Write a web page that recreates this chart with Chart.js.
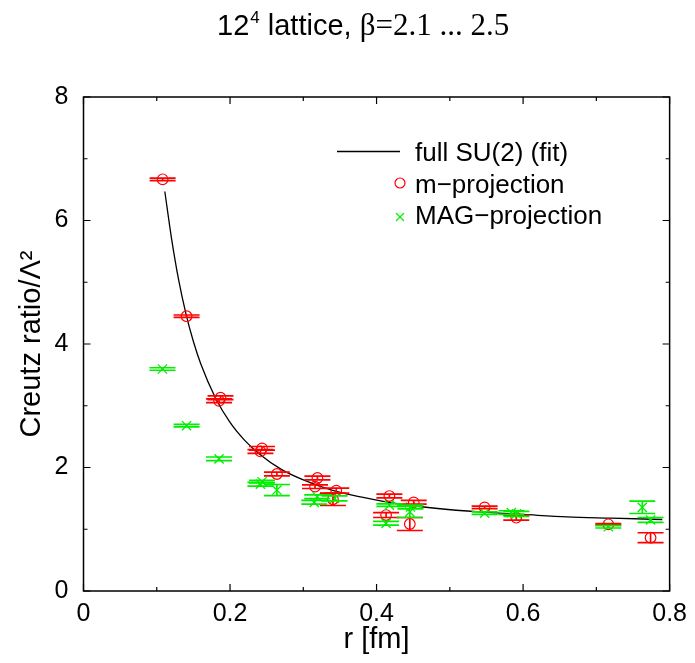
<!DOCTYPE html>
<html>
<head>
<meta charset="utf-8">
<script src="https://cdn.jsdelivr.net/npm/chart.js@4.4.1/dist/chart.umd.min.js"></script>
<style>
  html, body { margin: 0; padding: 0; background: #fff; }
  #c { display: block; }
</style>
</head>
<body>
<canvas id="c" width="695" height="663"></canvas>
<script>
// ---- data ----
// m-projection (red circles): r [fm], Creutz ratio / Lambda^2, error
const rM   = [0.108, 0.1407, 0.187, 0.185, 0.2437, 0.2415, 0.264, 0.3193, 0.316, 0.345, 0.3405, 0.4175, 0.413, 0.4507, 0.4454, 0.5475, 0.5907, 0.7163, 0.774];
const cM   = [6.667, 4.45,   3.13,  3.08,  2.31,   2.26,   1.895, 1.83,   1.69,  1.625, 1.485,  1.538,  1.23,  1.436,  1.085,  1.355,  1.187,  1.08,   0.863];
const eM   = [0.02,  0.02,   0.03,  0.03,  0.03,   0.03,   0.03,  0.03,   0.03,  0.04,  0.10,   0.03,   0.04,  0.03,   0.105,  0.02,   0.04,   0.01,   0.08];

// MAG-projection (green crosses)
const rG   = [0.1078, 0.1407, 0.185, 0.2437, 0.2415, 0.264, 0.319, 0.315, 0.3427, 0.4175, 0.413, 0.4463, 0.4454, 0.5475, 0.584, 0.591, 0.7163, 0.7627, 0.774];
const cG   = [3.595,  2.677,  2.14,  1.77,   1.73,   1.635, 1.527, 1.436, 1.50,   1.39,   1.096, 1.36,   1.28,   1.26,   1.27,  1.25,  1.04,   1.355,  1.15];
const eG   = [0.02,   0.02,   0.03,  0.02,   0.03,   0.09,  0.03,  0.03,  0.04,   0.02,   0.03,  0.03,   0.09,   0.02,   0.03,  0.04,  0.02,   0.10,   0.04];

// full SU(2) fit curve
const rFit = [0.111, 0.12, 0.13, 0.14, 0.15, 0.16, 0.18, 0.20, 0.22, 0.24, 0.27, 0.30, 0.34, 0.38, 0.43, 0.48, 0.54, 0.60, 0.66, 0.72, 0.79];
const cFit = [6.47,  5.72, 5.03, 4.48, 4.04, 3.68, 3.13, 2.73, 2.44, 2.22, 1.97, 1.80, 1.63, 1.52, 1.41, 1.34, 1.28, 1.24, 1.20, 1.18, 1.158];

// axis ticks
const xTicks = [0, 0.2, 0.4, 0.6, 0.8];
const yTicks = [0, 2, 4, 6, 8];
const xMinor = [0.1, 0.3, 0.5, 0.7];
const yMinor = [1, 3, 5, 7];

const titleParts = { base: '12', sup: '4', mid: ' lattice, ', greek: 'β=2.1 ... 2.5' };
const legendLabels = ['full SU(2) (fit)', 'm\u2212projection', 'MAG\u2212projection'];

const RED = '#ff0000', GREEN = '#00ee00';
const SANS = '"Liberation Sans", Arial, Helvetica, sans-serif';
const SERIF = '"Liberation Serif", "Times New Roman", serif';

const pts = (xs, ys) => xs.map((x, i) => ({ x: x, y: ys[i] }));

const errorBars = {
  id: 'errorBars',
  afterDatasetsDraw(chart) {
    const ctx = chart.ctx, ys = chart.scales.y, a = chart.chartArea;
    ctx.save();
    ctx.beginPath();
    ctx.rect(a.left, a.top, a.right - a.left, a.bottom - a.top);
    ctx.clip();
    chart.data.datasets.forEach((ds, di) => {
      if (!ds.yerr) return;
      const meta = chart.getDatasetMeta(di);
      ctx.strokeStyle = ds.borderColor;
      ctx.lineWidth = 1.7;
      meta.data.forEach((el, i) => {
        const v = ds.data[i].y, e = ds.yerr[i];
        const y1 = ys.getPixelForValue(v + e), y2 = ys.getPixelForValue(v - e);
        const x = el.x, hw = 13;
        ctx.beginPath();
        ctx.moveTo(x, y1); ctx.lineTo(x, y2);
        ctx.moveTo(x - hw, y1); ctx.lineTo(x + hw, y1);
        ctx.moveTo(x - hw, y2); ctx.lineTo(x + hw, y2);
        ctx.stroke();
      });
    });
    ctx.restore();
  }
};

const frameAndText = {
  id: 'frameAndText',
  afterDraw(chart) {
    const ctx = chart.ctx, a = chart.chartArea, xs = chart.scales.x, ys = chart.scales.y;
    ctx.save();
    // frame
    ctx.strokeStyle = '#000';
    ctx.lineWidth = 1.5;
    ctx.strokeRect(a.left, a.top, a.right - a.left, a.bottom - a.top);
    // inward ticks
    ctx.lineWidth = 1.2;
    ctx.beginPath();
    const tx = (vals, len) => vals.forEach(v => {
      const p = xs.getPixelForValue(v);
      ctx.moveTo(p, a.bottom); ctx.lineTo(p, a.bottom - len);
      ctx.moveTo(p, a.top); ctx.lineTo(p, a.top + len);
    });
    const ty = (vals, len) => vals.forEach(v => {
      const p = ys.getPixelForValue(v);
      ctx.moveTo(a.left, p); ctx.lineTo(a.left + len, p);
      ctx.moveTo(a.right, p); ctx.lineTo(a.right - len, p);
    });
    tx(xTicks, 7); tx(xMinor, 4); ty(yTicks, 7); ty(yMinor, 4);
    ctx.stroke();

    // title
    ctx.fillStyle = '#000';
    ctx.textBaseline = 'alphabetic';
    ctx.textAlign = 'left';
    let x = 217, base = 35;
    ctx.font = '29px ' + SANS;
    ctx.fillText(titleParts.base, x, base); x += ctx.measureText(titleParts.base).width + 1;
    ctx.font = '17px ' + SANS;
    ctx.fillText(titleParts.sup, x, base - 12); x += ctx.measureText(titleParts.sup).width;
    ctx.font = '29px ' + SANS;
    ctx.fillText(titleParts.mid, x, base); x += ctx.measureText(titleParts.mid).width;
    ctx.font = '31px ' + SERIF;
    ctx.fillText(titleParts.greek, x, base);

    // legend
    ctx.strokeStyle = '#000';
    ctx.lineWidth = 1.3;
    ctx.beginPath(); ctx.moveTo(337, 151.5); ctx.lineTo(400, 151.5); ctx.stroke();
    ctx.strokeStyle = RED; ctx.lineWidth = 1.2;
    ctx.beginPath(); ctx.arc(400, 183, 5, 0, Math.PI * 2); ctx.stroke();
    ctx.strokeStyle = GREEN;
    ctx.beginPath();
    ctx.moveTo(396, 213); ctx.lineTo(404, 221);
    ctx.moveTo(404, 213); ctx.lineTo(396, 221);
    ctx.stroke();
    ctx.fillStyle = '#000';
    ctx.font = '26px ' + SANS;
    ctx.fillText(legendLabels[0], 415, 161);
    ctx.fillText(legendLabels[1], 415, 193);
    ctx.fillText(legendLabels[2], 415, 224);
    ctx.restore();
  }
};

new Chart(document.getElementById('c'), {
  type: 'scatter',
  data: {
    datasets: [
      {
        label: legendLabels[0],
        type: 'line',
        data: pts(rFit, cFit),
        borderColor: '#000',
        borderWidth: 1.3,
        pointRadius: 0,
        fill: false,
        cubicInterpolationMode: 'monotone',
        order: 3
      },
      {
        label: legendLabels[1],
        data: pts(rM, cM),
        yerr: eM,
        borderColor: RED,
        backgroundColor: 'rgba(0,0,0,0)',
        pointStyle: 'circle',
        pointRadius: 5.3,
        pointBorderWidth: 1.2,
        order: 2
      },
      {
        label: legendLabels[2],
        data: pts(rG, cG),
        yerr: eG,
        borderColor: GREEN,
        backgroundColor: 'rgba(0,0,0,0)',
        pointStyle: 'crossRot',
        pointRadius: 6.5,
        pointBorderWidth: 1.3,
        order: 1
      }
    ]
  },
  options: {
    responsive: false,
    animation: false,
    events: [],
    layout: { padding: { top: 97, right: 19, left: 0, bottom: 0 } },
    plugins: { legend: { display: false }, tooltip: { enabled: false }, title: { display: false } },
    scales: {
      x: {
        type: 'linear', min: 0, max: 0.8,
        afterFit(s) { s.height = 72; },
        afterBuildTicks(s) { s.ticks = xTicks.map(v => ({ value: v })); },
        ticks: {
          color: '#000', font: { size: 25, family: SANS }, padding: 8,
          callback: v => (v === 0 ? '0' : v.toFixed(1))
        },
        grid: { display: false, drawTicks: false },
        border: { display: false },
        title: { display: true, text: 'r [fm]', color: '#000', font: { size: 29, family: SANS }, padding: { top: 0, bottom: 6 } }
      },
      y: {
        type: 'linear', min: 0, max: 8,
        afterFit(s) { s.width = 83.5; },
        afterBuildTicks(s) { s.ticks = yTicks.map(v => ({ value: v })); },
        ticks: {
          color: '#000', font: { size: 25, family: SANS }, padding: 15,
          callback: v => String(v)
        },
        grid: { display: false, drawTicks: false },
        border: { display: false },
        title: { display: true, text: 'Creutz ratio/Λ²', color: '#000', font: { size: 29, family: SANS }, padding: { top: 15, bottom: 0 } }
      }
    }
  },
  plugins: [errorBars, frameAndText]
});
</script>
</body>
</html>
